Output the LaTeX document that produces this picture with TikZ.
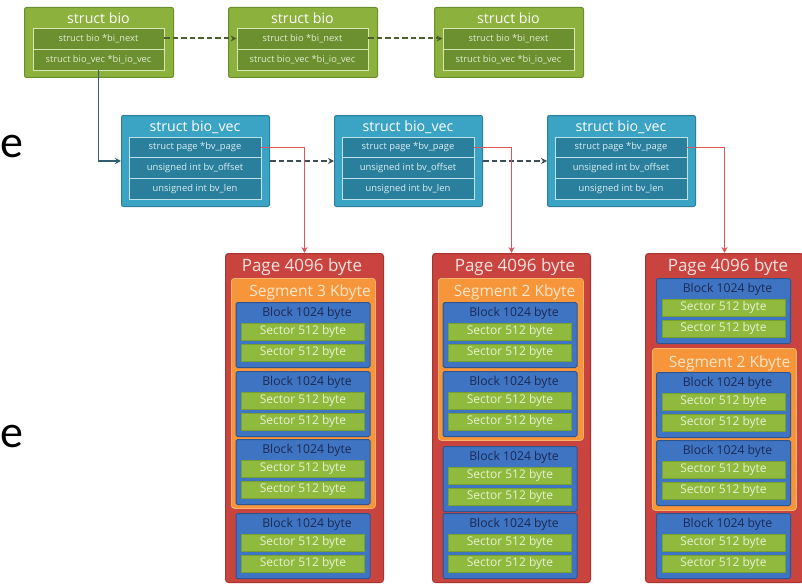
\documentclass[tikz,border=0pt]{standalone}
\usepackage{fontspec}
\setmainfont{Open Sans}
\newfontfamily\slidefont{Carlito}
\usetikzlibrary{arrows.meta}

% palette
\definecolor{bioFill}{HTML}{8CB13C}
\definecolor{bioBorder}{HTML}{6A8F2E}
\definecolor{bioRow}{HTML}{6C9030}
\definecolor{bioLine}{HTML}{D6E6B4}
\definecolor{bioText}{HTML}{E2ECCC}
\definecolor{vecFill}{HTML}{3BA3C4}
\definecolor{vecBorder}{HTML}{2A7F9C}
\definecolor{vecRow}{HTML}{2A809C}
\definecolor{vecLine}{HTML}{BCE2EC}
\definecolor{vecText}{HTML}{D9EEF4}
\definecolor{pageFill}{HTML}{C9443F}
\definecolor{pageBorder}{HTML}{A8332F}
\definecolor{pageText}{HTML}{FBE3E1}
\definecolor{segFill}{HTML}{F7953A}
\definecolor{segBorder}{HTML}{F9B46A}
\definecolor{segText}{HTML}{FDE7C8}
\definecolor{blkFill}{HTML}{3F74C2}
\definecolor{blkBorder}{HTML}{2D5592}
\definecolor{blkText}{HTML}{1B2A55}
\definecolor{secFill}{HTML}{8FBA3D}
\definecolor{secBorder}{HTML}{77A031}
\definecolor{secText}{HTML}{E8F1D2}
\definecolor{linkBio}{HTML}{4D5F2D}
\definecolor{linkDown}{HTML}{2F6070}
\definecolor{linkVec}{HTML}{3B4E5A}
\definecolor{linkPage}{HTML}{D9575A}

% one struct bio: name, left x
\newcommand\bioat[2]{%
  \node[biobox] (#1) at (#2,7) {};
  \node[biotitle] at (#2+74.5,18.5) {struct bio};
  \node[biorow] (#1r1) at (#2+74.5,38.5) {struct bio *bi\_next};
  \node[biorow] (#1r2) at (#2+74.5,59.5) {struct bio\_vec *bi\_io\_vec};
}
% one struct bio_vec: name, left x
\newcommand\vecat[2]{%
  \node[vecbox] (#1) at (#2,115) {};
  \node[biotitle] at (#2+74,127) {struct bio\_vec};
  \node[vecrow] (#1r1) at (#2+74,147.3) {struct page *bv\_page};
  \node[vecrow] (#1r2) at (#2+74,168) {unsigned int bv\_offset};
  \node[vecrow] (#1r3) at (#2+74,188.7) {unsigned int bv\_len};
}
% one block with its two sectors: name, centre x, top y
\newcommand\blockat[3]{%
  \node[blkbox] (#1) at (#2,#3) {};
  \node[blktitle] at (#2+4,#3+11.5) {Block 1024 byte};
  \node[secbox] (#1s1) at (#2,#3+29.5) {Sector 512 byte};
  \node[secbox] (#1s2) at (#2,#3+50.5) {Sector 512 byte};
}

\begin{document}
\begin{tikzpicture}[x=1pt,y=-1pt,
  biobox/.style={draw=bioBorder, fill=bioFill, line width=1pt, rounded corners=2pt,
    minimum width=149pt, minimum height=70pt, inner sep=0pt, anchor=north west},
  vecbox/.style={draw=vecBorder, fill=vecFill, line width=1pt, rounded corners=2pt,
    minimum width=148pt, minimum height=91pt, inner sep=0pt, anchor=north west},
  biotitle/.style={text=white, inner sep=0pt, font=\fontsize{14.2}{15}\selectfont},
  biorow/.style={draw=bioLine, fill=bioRow, line width=0.9pt, minimum width=131pt,
    minimum height=21pt, inner sep=0pt, text=bioText, font=\fontsize{9.3}{10}\selectfont},
  vecrow/.style={draw=vecLine, fill=vecRow, line width=0.9pt, minimum width=132pt,
    minimum height=20.7pt, inner sep=0pt, text=vecText, font=\fontsize{9.4}{10}\selectfont},
  pagebox/.style={draw=pageBorder, fill=pageFill, line width=1pt, rounded corners=3pt,
    minimum width=158pt, minimum height=329pt, inner sep=0pt, anchor=north west},
  pagetitle/.style={text=pageText, inner sep=0pt, font=\fontsize{17}{18}\selectfont},
  segbox/.style={draw=segBorder, fill=segFill, line width=0.8pt, rounded corners=3pt,
    inner sep=0pt, anchor=north west},
  segtitle/.style={text=segText, inner sep=0pt, font=\fontsize{15.5}{16}\selectfont},
  blkbox/.style={draw=blkBorder, fill=blkFill, line width=1pt, rounded corners=1.5pt,
    minimum width=134pt, minimum height=65pt, inner sep=0pt, anchor=north},
  blktitle/.style={text=blkText, inner sep=0pt, font=\fontsize{12.2}{13}\selectfont},
  secbox/.style={draw=secBorder, fill=secFill, line width=0.6pt, minimum width=123pt,
    minimum height=17pt, inner sep=0pt, text=secText, font=\fontsize{12}{13}\selectfont},
  dashlink/.style={line width=2pt, dash pattern=on 5.5pt off 3pt,
    -{Stealth[length=6pt,width=6pt]}},
  solidlink/.style={line width=1.6pt, -{Stealth[length=6pt,width=6pt]}},
  slideletter/.style={inner sep=0pt, anchor=base west, font=\slidefont\fontsize{46}{46}\selectfont}
]
\useasboundingbox (0,0) rectangle (802,583);
\fill[white] (0,0) rectangle (802,583);

% letters of the surrounding slide text, at its left edge
\node[slideletter] (e1) at (0,157) {e};
\node[slideletter] (e2) at (0,447) {e};

% ---- pages ----
\node[pagebox] (page1) at (225,253) {};
\node[pagebox] (page2) at (432,253) {};
\node[pagebox] (page3) at (645,253) {};
\node[pagetitle] at (302,267) {Page 4096 byte};
\node[pagetitle] at (515,267) {Page 4096 byte};
\node[pagetitle] at (728,267) {Page 4096 byte};

% page 1: a 3 Kbyte segment and one loose block
\node[segbox, minimum width=144pt, minimum height=230pt] (seg1) at (231,278) {};
\node[segtitle] at (310,292) {Segment 3 Kbyte};
\blockat{pa}{303}{302}
\blockat{pb}{303}{371}
\blockat{pc}{303}{439}
\blockat{pd}{303}{513}

% page 2: a 2 Kbyte segment and two loose blocks
\node[segbox, minimum width=145pt, minimum height=162pt] (seg2) at (438,278) {};
\node[segtitle] at (514.5,292) {Segment 2 Kbyte};
\blockat{qa}{510}{302}
\blockat{qb}{510}{371}
\blockat{qc}{510}{446}
\blockat{qd}{510}{513}

% page 3: loose block, 2 Kbyte segment, loose block
\blockat{ra}{723.5}{278}
\node[segbox, minimum width=144pt, minimum height=162pt] (seg3) at (652,348) {};
\node[segtitle] at (729.5,363) {Segment 2 Kbyte};
\blockat{rb}{723.5}{372}
\blockat{rc}{723.5}{440}
\blockat{rd}{723.5}{513}

% ---- struct bio chain ----
\bioat{bio1}{24}
\bioat{bio2}{228}
\bioat{bio3}{434}

% ---- struct bio_vec array ----
\vecat{vec1}{121}
\vecat{vec2}{334}
\vecat{vec3}{547}

% ---- links ----
\draw[dashlink, linkBio] (bio1r1.east) -- (bio2r1.west);
\draw[dashlink, linkBio] (bio2r1.east) -- (bio3r1.west);
\draw[solidlink, linkDown] (bio1r2.south) |- (vec1.west);
\draw[dashlink, linkVec] (vec1.east) -- (vec2.west);
\draw[dashlink, linkVec] (vec2.east) -- (vec3.west);
\draw[solidlink, linkPage, line width=1.4pt] (vec1r1.east) -| (page1.north);
\draw[solidlink, linkPage, line width=1.4pt] (vec2r1.east) -| (page2.north);
\draw[solidlink, linkPage, line width=1.4pt] (vec3r1.east) -| (page3.north);
\end{tikzpicture}
\end{document}
